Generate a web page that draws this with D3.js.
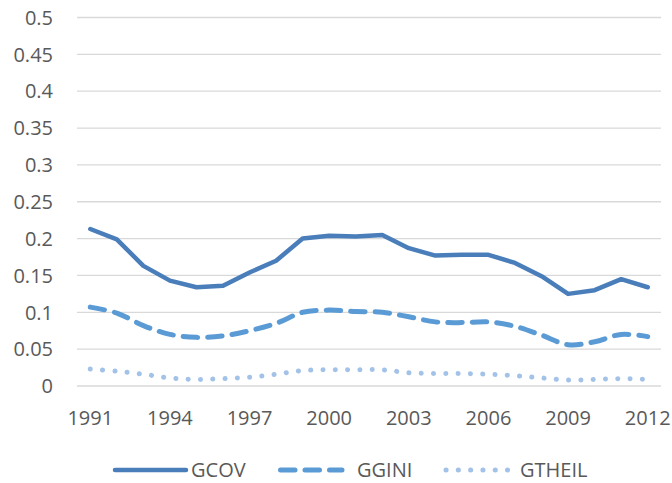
<!DOCTYPE html>
<html>
<head>
<meta charset="utf-8">
<script src="https://cdn.jsdelivr.net/npm/d3@7"></script>
<style>
  body { margin: 0; background: #fff; }
  text { font-family: "Open Sans", sans-serif; fill: #595959; }
</style>
</head>
<body>
<div id="chart"></div>
<script>
const width = 672;
const height = 483;
const margin = { top: 17.5, right: 11, bottom: 97, left: 77 };

// data
const years = d3.range(1991, 2013);
const gcov = [0.213, 0.199, 0.163, 0.143, 0.134, 0.136, 0.154, 0.170, 0.200, 0.204,
              0.203, 0.205, 0.187, 0.177, 0.178, 0.178, 0.167, 0.149, 0.125, 0.130,
              0.145, 0.134];
const ggini = [0.107, 0.099, 0.082, 0.070, 0.066, 0.068, 0.075, 0.085, 0.100, 0.103,
               0.101, 0.100, 0.094, 0.087, 0.086, 0.087, 0.081, 0.069, 0.056, 0.060,
               0.070, 0.067];
const gtheil = [0.023, 0.020, 0.016, 0.011, 0.009, 0.010, 0.012, 0.016, 0.021, 0.022,
                0.022, 0.022, 0.018, 0.017, 0.017, 0.016, 0.014, 0.011, 0.008, 0.009,
                0.010, 0.009];
const yTicks = [0, 0.05, 0.1, 0.15, 0.2, 0.25, 0.3, 0.35, 0.4, 0.45, 0.5];
const xTickYears = [1991, 1994, 1997, 2000, 2003, 2006, 2009, 2012];

const series = [
  { name: 'GCOV', values: gcov, color: '#4a7ebb', width: 4.5, dash: null, curve: d3.curveLinear },
  { name: 'GGINI', values: ggini, color: '#5b9bd5', width: 5, dash: '14.5,10', curve: d3.curveCatmullRom.alpha(0.5) },
  { name: 'GTHEIL', values: gtheil, color: '#a3c2e8', width: 5, dash: '0.1,12.2', curve: d3.curveCatmullRom.alpha(0.5) }
];

const svg = d3.select('#chart')
  .append('svg')
  .attr('width', width)
  .attr('height', height);

const x = d3.scalePoint()
  .domain(years)
  .range([margin.left, width - margin.right])
  .padding(0.5);

const y = d3.scaleLinear()
  .domain([0, 0.5])
  .range([height - margin.bottom, margin.top]);

// gridlines
svg.append('g')
  .selectAll('line')
  .data(yTicks)
  .join('line')
  .attr('x1', margin.left)
  .attr('x2', width - margin.right)
  .attr('y1', (d) => y(d))
  .attr('y2', (d) => y(d))
  .attr('stroke', '#d9d9d9')
  .attr('stroke-width', 1.3);

// y labels
svg.append('g')
  .selectAll('text')
  .data(yTicks)
  .join('text')
  .attr('x', 53)
  .attr('y', (d) => y(d))
  .attr('dy', '0.36em')
  .attr('text-anchor', 'end')
  .style('font-size', '20px')
  .text((d) => d3.format('~g')(d));

// x labels
svg.append('g')
  .selectAll('text')
  .data(xTickYears)
  .join('text')
  .attr('x', (d) => x(d))
  .attr('y', 425)
  .attr('text-anchor', 'middle')
  .style('font-size', '20px')
  .text((d) => d);

// lines
series.forEach((s) => {
  const line = d3.line()
    .x((d, i) => x(years[i]))
    .y((d) => y(d))
    .curve(s.curve);

  svg.append('path')
    .datum(s.values)
    .attr('d', line)
    .attr('fill', 'none')
    .attr('stroke', s.color)
    .attr('stroke-width', s.width)
    .attr('stroke-linecap', 'round')
    .attr('stroke-linejoin', 'round')
    .attr('stroke-dasharray', s.dash);
});

// legend
const legendPos = [
  { x1: 115, x2: 186, tx: 191 },
  { x1: 280.5, x2: 342, tx: 357 },
  { x1: 446, x2: 508, tx: 520 }
];
const legend = svg.append('g')
  .selectAll('g')
  .data(series)
  .join('g');

legend.append('line')
  .attr('x1', (d, i) => legendPos[i].x1)
  .attr('x2', (d, i) => legendPos[i].x2)
  .attr('y1', 470)
  .attr('y2', 470)
  .attr('stroke', (d) => d.color)
  .attr('stroke-width', (d) => d.width)
  .attr('stroke-linecap', 'round')
  .attr('stroke-dasharray', (d) => d.dash);

legend.append('text')
  .attr('x', (d, i) => legendPos[i].tx)
  .attr('y', 470)
  .attr('dy', '0.36em')
  .style('font-size', '20px')
  .text((d) => d.name);
</script>
</body>
</html>
